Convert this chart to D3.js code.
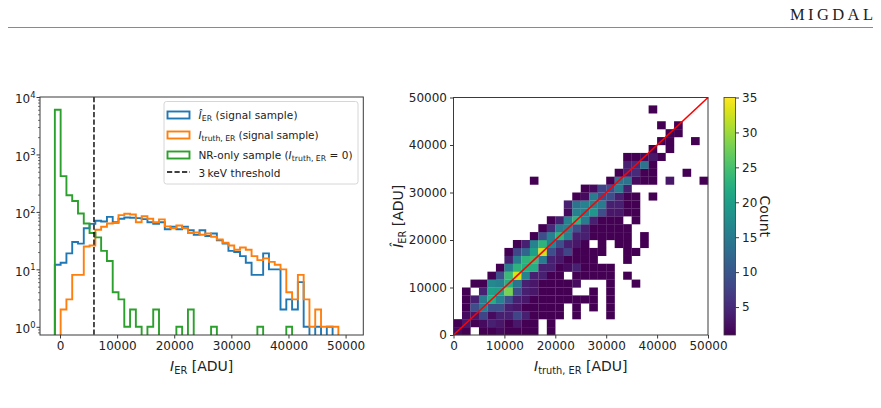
<!DOCTYPE html>
<html><head><meta charset="utf-8">
<script src="https://cdn.jsdelivr.net/npm/d3@7"></script>
<style>
body{margin:0;background:#fff}
svg{display:block;font-family:"DejaVu Sans",sans-serif}
</style>
</head><body>
<svg id="c" width="881" height="408"></svg>
<script>
// ---------------- DATA ----------------
// Left panel: histograms (50 equal bins)
const histBinStart = -900;
const histBinWidth = 1013;
const recoCounts = [12,13,19,30,28,52,62,70,68,82,66,76,80,79,78,75,66,62,66,50,55,50,55,48,40,48,38,42,32,28,21,20,17,13,8,8,19,10,10,2,3,2,6,1,0,1,0,1,0,0];
const truthCounts = [0,2,3,8,8,25,26,49,55,63,64,88,93,90,66,84,76,66,74,56,52,58,52,43,44,40,42,37,33,29,26,22,24,22,17,14.5,15.5,13.5,12,10,4,3,8,3,1,2,1,1,1,0];
const nrCounts = [6000,420,195,155,94,63,43,36,21,14,4,3,1,2,1,0,1,2,0,0,0,1,0,2,0,0,0,1,0,0,0,0,0,0,0,1,0,0,0,0,1,0,0,0,0,0,0,0,0,0];
const thresholdADU = 5950;
const leftXTicks = [0,10000,20000,30000,40000,50000];
const leftYExponents = [0,1,2,3,4];
const legendLabels = ["reco","truth","nr","thr"];

// Right panel: 2D histogram, 30 x 30 bins over [0, 50000]
const heatRange = [0, 50000];
const heatBins = 30;
// heatCounts[row][col], row = reconstructed bin (bottom→top), col = truth bin
const heatCounts = [
[2,1,0,1,1,2,1,1,1,1,0,1,0,0,0,0,0,0,0,0,0,0,0,0,0,0,0,0,0,0],
[1,3,1,2,4,3,1,3,1,1,0,1,0,0,0,0,0,0,0,0,0,0,0,0,0,0,0,0,0,0],
[0,2,3,8,2,4,4,8,4,1,1,1,1,0,1,0,0,0,1,0,0,0,0,0,0,0,0,0,0,0],
[0,1,9,15,9,9,4,3,1,1,1,1,1,0,1,0,1,0,1,0,0,0,0,0,0,0,0,0,0,0],
[0,1,4,15,22,16,9,4,3,1,1,1,1,1,1,1,1,0,1,0,0,0,0,0,0,0,0,0,0,0],
[0,1,0,4,20,20,28,9,4,3,1,1,1,1,0,0,1,0,1,0,0,0,0,0,0,0,0,0,0,0],
[0,0,1,1,17,16,22,14,4,3,1,1,1,1,2,0,0,0,1,0,0,1,0,0,0,0,0,0,0,0],
[0,0,0,0,1,9,24,33,16,4,4,1,1,0,1,1,1,1,1,0,1,0,0,0,0,0,0,0,0,0],
[0,0,0,0,0,1,15,23,22,22,4,4,1,2,4,1,1,1,1,0,0,0,0,0,0,0,0,0,0,0],
[0,0,0,0,0,0,4,15,23,24,15,4,3,1,1,1,1,0,0,0,1,0,0,0,0,0,0,0,0,0],
[0,0,0,0,0,0,1,8,12,20,33,9,4,8,1,1,1,1,0,0,1,1,0,0,0,0,0,0,0,0],
[0,0,0,0,0,0,0,1,4,16,23,16,9,4,3,1,0,1,0,1,1,0,1,0,0,0,0,0,0,0],
[0,0,0,0,0,0,0,0,0,1,9,16,23,16,4,4,1,1,1,1,1,0,1,0,0,0,0,0,0,0],
[0,0,0,0,0,0,0,0,0,0,1,5,15,16,9,4,1,1,1,1,1,0,0,0,0,0,0,0,0,0],
[0,0,0,0,0,0,0,0,0,0,0,1,4,16,23,15,4,1,1,1,0,1,0,0,0,0,0,0,0,0],
[0,0,0,0,0,0,0,0,0,0,0,0,0,2,16,16,19,9,3,3,1,1,0,0,0,0,0,0,0,0],
[0,0,0,0,0,0,0,0,0,0,0,0,0,4,14,16,16,15,4,4,1,1,0,0,0,0,0,0,0,0],
[0,0,0,0,0,0,0,0,0,0,0,0,0,0,1,2,15,9,9,4,1,1,0,1,0,0,0,0,0,0],
[0,0,0,0,0,0,0,0,0,0,0,0,0,0,0,1,2,8,9,15,4,0,0,0,0,0,0,0,0,0],
[0,0,0,0,0,0,0,0,0,1,0,0,0,0,0,0,0,0,1,14,14,2,1,1,0,3,0,0,0,1],
[0,0,0,0,0,0,0,0,0,0,0,0,0,0,0,0,0,0,0,1,4,5,1,1,0,0,0,1,0,0],
[0,0,0,0,0,0,0,0,0,0,0,0,0,0,0,0,0,0,0,0,4,5,14,1,0,0,0,0,0,0],
[0,0,0,0,0,0,0,0,0,0,0,0,0,0,0,0,0,0,0,0,1,1,2,3,1,0,0,0,0,0],
[0,0,0,0,0,0,0,0,0,0,0,0,0,0,0,0,0,0,0,0,0,0,0,1,0,1,0,0,0,0],
[0,0,0,0,0,0,0,0,0,0,0,0,0,0,0,0,0,0,0,0,0,0,0,0,1,1,0,0,1,0],
[0,0,0,0,0,0,0,0,0,0,0,0,0,0,0,0,0,0,0,0,0,0,0,0,0,1,1,0,0,0],
[0,0,0,0,0,0,0,0,0,0,0,0,0,0,0,0,0,0,0,0,0,0,0,0,1,0,1,0,0,0],
[0,0,0,0,0,0,0,0,0,0,0,0,0,0,0,0,0,0,0,0,0,0,0,0,0,0,0,0,0,0],
[0,0,0,0,0,0,0,0,0,0,0,0,0,0,0,0,0,0,0,0,0,0,0,1,0,0,0,0,0,0],
[0,0,0,0,0,0,0,0,0,0,0,0,0,0,0,0,0,0,0,0,0,0,0,0,0,0,0,0,0,0]
];
const heatTicks = [0,10000,20000,30000,40000,50000];
const colorRange = [1, 35];
const colorTicks = [5,10,15,20,25,30,35];

// ---------------- DRAW ----------------
const svg = d3.select("#c");
const TXT = "#222", SPINE = "#3a3a3a";
const C_BLUE = "#1f77b4", C_ORANGE = "#ff7f0e", C_GREEN = "#2ca02c";

function mathText(parent, x, y, parts, fs, anchor, subRatio) {
  const sr = subRatio || 0.7;
  const t = parent.append("text").attr("x", x).attr("y", y)
    .attr("font-size", fs).attr("fill", TXT).attr("text-anchor", anchor || "start");
  let shift = 0;
  parts.forEach(p => {
    const ts = t.append("tspan").text(p.t);
    if (p.it) ts.attr("font-style", "italic");
    let target = 0;
    if (p.sub) target = fs * 0.24;
    if (p.sup) target = -fs * 0.45;
    if (p.sub || p.sup) ts.attr("font-size", fs * sr);
    if (target !== shift) { ts.attr("dy", target - shift); shift = target; }
  });
  return t;
}

// header
svg.append("line").attr("x1", 8).attr("x2", 873).attr("y1", 27.5).attr("y2", 27.5)
  .attr("stroke", "#8a8a8a").attr("stroke-width", 1);
svg.append("text").attr("x", 790).attr("y", 20)
  .attr("font-family", "'Liberation Serif','DejaVu Serif',serif").attr("font-size", 16.5)
  .attr("textLength", 83).attr("lengthAdjust", "spacing").attr("fill", "#222").text("MIGDAL");

// ---------- Left panel ----------
const Lx0 = 40, Lx1 = 363.3, Ly0 = 97, Ly1 = 335;
const xL = d3.scaleLinear().domain([-3500, 53100]).range([Lx0, Lx1]);
const yL = d3.scaleLog().domain([0.72, 1e4]).range([Ly1, Ly0]);
const gL = svg.append("g");
gL.append("clipPath").attr("id", "clipL").append("rect")
  .attr("x", Lx0).attr("y", Ly0).attr("width", Lx1 - Lx0).attr("height", Ly1 - Ly0);

function stepPath(counts) {
  const pts = [];
  const floorV = 0.2;
  const e = i => histBinStart + i * histBinWidth;
  pts.push([xL(e(0)), yL(floorV)]);
  counts.forEach((c, i) => {
    const v = c > 0 ? c : floorV;
    pts.push([xL(e(i)), yL(v)]);
    pts.push([xL(e(i + 1)), yL(v)]);
  });
  pts.push([xL(e(counts.length)), yL(floorV)]);
  return d3.line()(pts);
}
const histG = gL.append("g").attr("clip-path", "url(#clipL)");
[[recoCounts, C_BLUE], [truthCounts, C_ORANGE], [nrCounts, C_GREEN]].forEach(([c, col]) => {
  histG.append("path").attr("d", stepPath(c)).attr("fill", "none")
    .attr("stroke", col).attr("stroke-width", 1.9).attr("stroke-linejoin", "miter");
});
histG.append("line").attr("x1", xL(thresholdADU)).attr("x2", xL(thresholdADU))
  .attr("y1", Ly0).attr("y2", Ly1).attr("stroke", "#000").attr("stroke-width", 1.4)
  .attr("stroke-dasharray", "5.2,2.3");

// axes left
const axLB = gL.append("g").attr("transform", `translate(0,${Ly1})`)
  .call(d3.axisBottom(xL).tickValues(leftXTicks).tickSize(3.5).tickPadding(3).tickFormat(d3.format("d")));
axLB.select(".domain").remove();
axLB.selectAll("text").attr("font-size", 12).attr("fill", TXT).attr("font-family", "DejaVu Sans");
axLB.selectAll("line").attr("stroke", SPINE);

const minorVals = [];
for (let e = -1; e < 4; e++) for (let m = 2; m <= 9; m++) {
  const v = m * Math.pow(10, e);
  if (v >= 0.72 && v < 1e4) minorVals.push(v);
}
const axLLm = gL.append("g").attr("transform", `translate(${Lx0},0)`)
  .call(d3.axisLeft(yL).tickValues(minorVals).tickSize(2).tickFormat(""));
axLLm.select(".domain").remove();
axLLm.selectAll("line").attr("stroke", SPINE).attr("stroke-width", 0.7);
const majorVals = leftYExponents.map(e => Math.pow(10, e));
const axLL = gL.append("g").attr("transform", `translate(${Lx0},0)`)
  .call(d3.axisLeft(yL).tickValues(majorVals).tickSize(3.5).tickFormat(""));
axLL.select(".domain").remove();
axLL.selectAll("line").attr("stroke", SPINE);
leftYExponents.forEach(e => {
  mathText(gL, 35.5, yL(Math.pow(10, e)) + 6.2, [{t: "10"}, {t: String(e), sup: true}], 12, "end");
});
gL.append("rect").attr("x", Lx0).attr("y", Ly0).attr("width", Lx1 - Lx0).attr("height", Ly1 - Ly0)
  .attr("fill", "none").attr("stroke", SPINE).attr("stroke-width", 1);

mathText(gL, (Lx0 + Lx1) / 2, 371, [{t: "I", it: true}, {t: "ER", sub: true}, {t: " [ADU]"}], 14, "middle");

// legend
const lg = gL.append("g");
lg.append("rect").attr("x", 164).attr("y", 101.5).attr("width", 194).attr("height", 82.5)
  .attr("rx", 2.5).attr("fill", "#fff").attr("fill-opacity", 0.85).attr("stroke", "#d6d6d6").attr("stroke-width", 1);
const legRows = [
  {key: legendLabels[0], cy: 115.5, col: C_BLUE, w: 99, parts: [{t: "Î", it: true}, {t: "ER", sub: true}, {t: " (signal sample)"}]},
  {key: legendLabels[1], cy: 135.5, col: C_ORANGE, w: 120, parts: [{t: "I", it: true}, {t: "truth, ER", sub: true}, {t: " (signal sample)"}]},
  {key: legendLabels[2], cy: 155.5, col: C_GREEN, w: 154, parts: [{t: "NR-only sample ("}, {t: "I", it: true}, {t: "truth, ER", sub: true}, {t: " = 0)"}]},
  {key: legendLabels[3], cy: 173.5, col: "#000", w: 82, parts: [{t: "3\u2009keV threshold"}]}
];
legRows.forEach(r => {
  if (r.key === "thr") {
    lg.append("line").attr("x1", 167).attr("x2", 190).attr("y1", r.cy - 1.5).attr("y2", r.cy - 1.5)
      .attr("stroke", "#000").attr("stroke-width", 1.4).attr("stroke-dasharray", "5.2,2.3");
  } else {
    lg.append("rect").attr("x", 167.5).attr("y", r.cy - 4).attr("width", 22).attr("height", 7)
      .attr("fill", "none").attr("stroke", r.col).attr("stroke-width", 1.9);
  }
  mathText(lg, 198.5, r.cy + 3.4, r.parts, 10.5, "start", 0.74)
    .attr("textLength", r.w).attr("lengthAdjust", "spacing");
});

// ---------- Right panel ----------
const Rx0 = 453.5, Rx1 = 708, Ry0 = 97.5, Ry1 = 335;
const xR = d3.scaleLinear().domain(heatRange).range([Rx0, Rx1]);
const yR = d3.scaleLinear().domain(heatRange).range([Ry1, Ry0]);
const color = d3.scaleSequential(d3.interpolateViridis).domain(colorRange);
const bw = (heatRange[1] - heatRange[0]) / heatBins;
const gR = svg.append("g");
const cells = [];
heatCounts.forEach((row, r) => row.forEach((v, c) => { if (v > 0) cells.push({r, c, v}); }));
gR.selectAll("rect.cell").data(cells).enter().append("rect").attr("class", "cell")
  .attr("x", d => xR(d.c * bw)).attr("y", d => yR((d.r + 1) * bw))
  .attr("width", d => xR((d.c + 1) * bw) - xR(d.c * bw) + 0.15)
  .attr("height", d => yR(d.r * bw) - yR((d.r + 1) * bw) + 0.15)
  .attr("fill", d => color(Math.min(d.v, colorRange[1])));
gR.append("line").attr("x1", xR(heatRange[0])).attr("y1", yR(heatRange[0]))
  .attr("x2", xR(heatRange[1])).attr("y2", yR(heatRange[1]))
  .attr("stroke", "#ff0000").attr("stroke-width", 1.6);

const axRB = gR.append("g").attr("transform", `translate(0,${Ry1})`)
  .call(d3.axisBottom(xR).tickValues(heatTicks).tickSize(3.5).tickPadding(3).tickFormat(d3.format("d")));
const axRL = gR.append("g").attr("transform", `translate(${Rx0},0)`)
  .call(d3.axisLeft(yR).tickValues(heatTicks).tickSize(3.5).tickPadding(3).tickFormat(d3.format("d")));
[axRB, axRL].forEach(a => {
  a.select(".domain").remove();
  a.selectAll("text").attr("font-size", 12).attr("fill", TXT).attr("font-family", "DejaVu Sans");
  a.selectAll("line").attr("stroke", SPINE);
});
gR.append("rect").attr("x", Rx0).attr("y", Ry0).attr("width", Rx1 - Rx0).attr("height", Ry1 - Ry0)
  .attr("fill", "none").attr("stroke", SPINE).attr("stroke-width", 1);

mathText(gR, (Rx0 + Rx1) / 2, 371, [{t: "I", it: true}, {t: "truth, ER", sub: true}, {t: " [ADU]"}], 14, "middle");
const yl = mathText(gR, 0, 0, [{t: "Î", it: true}, {t: "ER", sub: true}, {t: " [ADU]"}], 14, "middle");
yl.attr("transform", `translate(403,${(Ry0 + Ry1) / 2}) rotate(-90)`);

// colorbar
const Cx0 = 724, Cx1 = 735.5;
const yC = d3.scaleLinear().domain(colorRange).range([Ry1, Ry0]);
const grad = svg.append("defs").append("linearGradient").attr("id", "vir")
  .attr("x1", 0).attr("y1", 1).attr("x2", 0).attr("y2", 0);
d3.range(0, 1.0001, 0.05).forEach(t => grad.append("stop").attr("offset", t)
  .attr("stop-color", d3.interpolateViridis(t)));
gR.append("rect").attr("x", Cx0).attr("y", yC(colorRange[1])).attr("width", Cx1 - Cx0)
  .attr("height", yC(colorRange[0]) - yC(colorRange[1])).attr("fill", "url(#vir)")
  .attr("stroke", SPINE).attr("stroke-width", 0.8);
const axC = gR.append("g").attr("transform", `translate(${Cx1},0)`)
  .call(d3.axisRight(yC).tickValues(colorTicks).tickSize(3.5).tickPadding(3).tickFormat(d3.format("d")));
axC.select(".domain").remove();
axC.selectAll("text").attr("font-size", 12).attr("fill", TXT).attr("font-family", "DejaVu Sans");
axC.selectAll("line").attr("stroke", SPINE);
gR.append("text").attr("transform", `translate(760,${(Ry0 + Ry1) / 2}) rotate(90)`)
  .attr("text-anchor", "middle").attr("font-size", 14).attr("fill", TXT).text("Count");
</script>
</body></html>
